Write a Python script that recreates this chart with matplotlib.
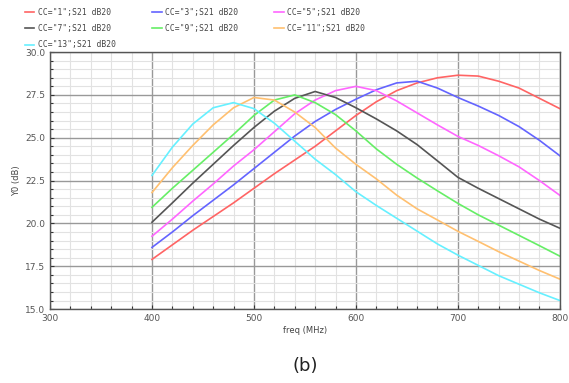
import numpy as np
import matplotlib
matplotlib.use("Agg")
import matplotlib.pyplot as plt
import matplotlib.ticker as mtick

freq = [400, 420, 440, 460, 480, 500, 520, 540, 560, 580, 600,
        620, 640, 660, 680, 700, 720, 740, 760, 780, 800]

s21 = {
    "1":  [17.9, 18.75, 19.6, 20.4, 21.2, 22.05, 22.9, 23.7, 24.5, 25.4, 26.3,
           27.1, 27.75, 28.2, 28.5, 28.65, 28.6, 28.3, 27.9, 27.3, 26.7],
    "3":  [18.6, 19.5, 20.45, 21.35, 22.25, 23.2, 24.15, 25.1, 25.95, 26.65, 27.25,
           27.8, 28.2, 28.3, 27.9, 27.35, 26.85, 26.3, 25.65, 24.85, 23.95],
    "5":  [19.25, 20.25, 21.3, 22.3, 23.35, 24.3, 25.35, 26.4, 27.2, 27.75, 28.0,
           27.75, 27.15, 26.45, 25.75, 25.08, 24.55, 23.95, 23.3, 22.5, 21.64],
    "7":  [20.07, 21.2, 22.35, 23.45, 24.55, 25.6, 26.55, 27.3, 27.7, 27.35, 26.75,
           26.1, 25.4, 24.6, 23.65, 22.69, 22.05, 21.45, 20.85, 20.25, 19.72],
    "9":  [20.94, 22.05, 23.1, 24.15, 25.2, 26.3, 27.2, 27.5, 27.05, 26.35, 25.4,
           24.35, 23.45, 22.65, 21.9, 21.17, 20.5, 19.9, 19.3, 18.7, 18.09],
    "11": [21.8, 23.25, 24.55, 25.75, 26.75, 27.35, 27.2, 26.5, 25.6, 24.4, 23.45,
           22.6, 21.65, 20.85, 20.2, 19.54, 18.95, 18.35, 17.8, 17.25, 16.75],
    "13": [22.8, 24.45, 25.8, 26.75, 27.05, 26.7, 25.85, 24.8, 23.75, 22.85, 21.85,
           21.05, 20.3, 19.55, 18.8, 18.15, 17.55, 16.95, 16.45, 15.95, 15.5],
}
colors = ["#ff6464", "#6464ff", "#ff66ff", "#555555", "#66ee66", "#ffc070", "#66f0ff"]

fig = plt.figure(figsize=(5.69, 3.83), dpi=100)
ax = fig.add_axes([0.0879, 0.193, 0.896, 0.671])

handles = []
for (cc, vals), col in zip(s21.items(), colors):
    (ln,) = ax.plot(freq, vals, color=col, lw=1.2, label=f'CC="{cc}";S21 dB20')
    handles.append(ln)

ax.set_xlim(300, 800)
ax.set_ylim(15, 30)
ax.xaxis.set_major_locator(mtick.MultipleLocator(100))
ax.xaxis.set_minor_locator(mtick.MultipleLocator(20))
ax.yaxis.set_major_locator(mtick.MultipleLocator(2.5))
ax.yaxis.set_minor_locator(mtick.MultipleLocator(0.5))
ax.yaxis.set_major_formatter(mtick.FormatStrFormatter("%.1f"))
ax.grid(True, which="major", color="#999999", lw=1.0)
ax.grid(True, which="minor", color="#e2e2e2", lw=0.8)
ax.set_axisbelow(True)
ax.tick_params(which="both", direction="in", colors="#333333", labelcolor="#555555",
               labelsize=6.5, width=0.8)
ax.tick_params(which="major", length=3)
ax.tick_params(which="minor", length=2)
for sp in ax.spines.values():
    sp.set_color("#555555")
    sp.set_linewidth(1.0)

ax.set_xlabel("freq (MHz)", fontsize=6, color="#444444", labelpad=2)
ax.set_ylabel("Y0 (dB)", fontsize=6, color="#444444", labelpad=3)

# legend fills column by column, so reorder to read row by row
order = [0, 3, 6, 1, 4, 2, 5]
fig.legend([handles[i] for i in order], [handles[i].get_label() for i in order],
           ncol=3, loc="upper left", bbox_to_anchor=(0.035, 0.992), frameon=False,
           prop={"family": "DejaVu Sans Mono", "size": 5.8}, labelcolor="#444444",
           handlelength=1.2, handletextpad=0.4, columnspacing=4.5, labelspacing=0.9,
           borderaxespad=0.2)

fig.text(0.536, 0.045, "(b)", fontsize=13, color="#222222", ha="center", va="center")

fig.savefig("out.png", dpi=100)
